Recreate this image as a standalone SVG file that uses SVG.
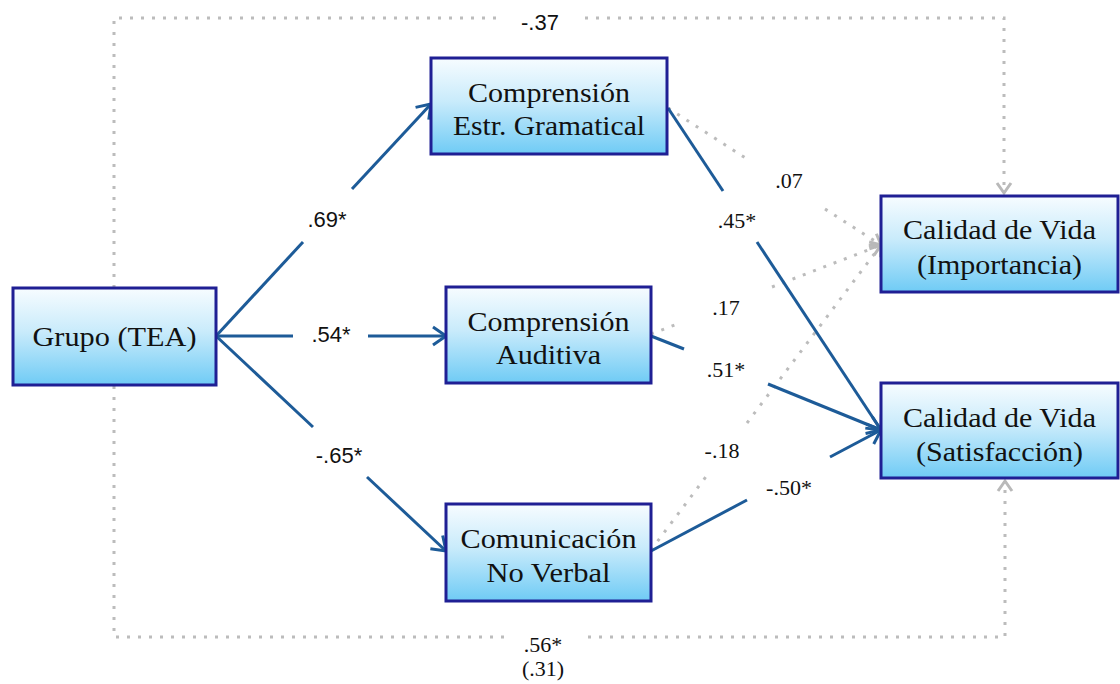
<svg xmlns="http://www.w3.org/2000/svg" width="1120" height="684" viewBox="0 0 1120 684">
  <defs>
    <linearGradient id="boxFill" x1="0" y1="0" x2="0" y2="1">
      <stop offset="0" stop-color="#f7fcff"/>
      <stop offset="0.45" stop-color="#c9ebfb"/>
      <stop offset="1" stop-color="#6fcbf5"/>
    </linearGradient>
    <marker id="arrowBlue" viewBox="-18 -12 22 24" markerWidth="22" markerHeight="24" refX="0" refY="0" orient="auto" markerUnits="userSpaceOnUse">
      <path d="M-13,-9 L0,0 L-13,9" fill="none" stroke="#1d5b98" stroke-width="3"/>
    </marker>
    <marker id="arrowGray" viewBox="-16 -12 20 24" markerWidth="20" markerHeight="24" refX="0" refY="0" orient="auto" markerUnits="userSpaceOnUse">
      <path d="M-10,-7 L0,0 L-10,7" fill="none" stroke="#b9b9b9" stroke-width="3"/>
    </marker>
  </defs>
  <style>
    .box { fill: url(#boxFill); stroke: #1f1f94; stroke-width: 3; }
    .node { font-family: "Liberation Serif", "Times New Roman", serif; font-size: 28px; fill: #111; text-anchor: middle; }
    .solid { fill: none; stroke: #1d5b98; stroke-width: 3; }
    .dot { fill: none; stroke: #bcbcbc; stroke-width: 3; stroke-dasharray: 3 8; }
    .lbl { font-family: "Liberation Serif", "Times New Roman", serif; font-size: 22px; fill: #111; text-anchor: middle; }
    .lbls { font-family: "Liberation Sans", Arial, sans-serif; font-size: 22px; fill: #111; text-anchor: middle; }
  </style>

  <rect width="1120" height="684" fill="#ffffff"/>

  <!-- connectors -->
  <g id="connectors">
    <!-- direct effects (dotted frame) -->
    <path class="dot" d="M114,288 V18 H500"/>
    <path class="dot" d="M585,18 H1004 V193" marker-end="url(#arrowGray)"/>
    <path class="dot" d="M114,386 V637 H509"/>
    <path class="dot" d="M588,637 H1005 V481" marker-end="url(#arrowGray)"/>

    <!-- Grupo to mediators -->
    <path class="solid" d="M216,336 L303,242"/>
    <path class="solid" d="M352,189 L431,104" marker-end="url(#arrowBlue)"/>
    <path class="solid" d="M216,336 L293,336"/>
    <path class="solid" d="M368,336 L446,336" marker-end="url(#arrowBlue)"/>
    <path class="solid" d="M216,336 L313,427"/>
    <path class="solid" d="M367,477 L446,551" marker-end="url(#arrowBlue)"/>

    <!-- mediators to Importancia (non-significant) -->
    <path class="dot" d="M668,108 L747,159"/>
    <path class="dot" d="M825,209 L881,245" marker-end="url(#arrowGray)"/>
    <path class="dot" d="M651,334 L680,323"/>
    <path class="dot" d="M772,287 L881,245" marker-end="url(#arrowGray)"/>
    <path class="dot" d="M651,550 L708,474"/>
    <path class="dot" d="M747,423 L881,245" marker-end="url(#arrowGray)"/>

    <!-- mediators to Satisfaccion -->
    <path class="solid" d="M668,108 L723,191"/>
    <path class="solid" d="M757,242 L881,430" marker-end="url(#arrowBlue)"/>
    <path class="solid" d="M651,336 L684,349"/>
    <path class="solid" d="M768,384 L881,430" marker-end="url(#arrowBlue)"/>
    <path class="solid" d="M651,551 L747,500"/>
    <path class="solid" d="M830,457 L881,430" marker-end="url(#arrowBlue)"/>
  </g>

  <!-- path coefficients -->
  <g id="labels">
    <text class="lbls" x="540" y="30">-.37</text>
    <text class="lbls" x="327" y="227">.69*</text>
    <text class="lbls" x="331" y="342">.54*</text>
    <text class="lbls" x="339" y="463">-.65*</text>
    <text class="lbl" x="789" y="188">.07</text>
    <text class="lbl" x="737" y="228">.45*</text>
    <text class="lbl" x="726" y="315">.17</text>
    <text class="lbl" x="726" y="377">.51*</text>
    <text class="lbl" x="722" y="458">-.18</text>
    <text class="lbl" x="789" y="495">-.50*</text>
    <text class="lbl" x="543" y="652">.56*</text>
    <text class="lbl" x="543" y="676">(.31)</text>
  </g>

  <!-- nodes -->
  <g id="node-grupo">
    <rect class="box" x="13" y="288" width="203" height="97"/>
    <text class="node" x="114.5" y="346" textLength="164" lengthAdjust="spacingAndGlyphs">Grupo (TEA)</text>
  </g>
  <g id="node-estr-gramatical">
    <rect class="box" x="431" y="58" width="236" height="96"/>
    <text class="node" x="549" y="102" textLength="162" lengthAdjust="spacingAndGlyphs">Comprensión</text>
    <text class="node" x="549" y="135" textLength="192" lengthAdjust="spacingAndGlyphs">Estr. Gramatical</text>
  </g>
  <g id="node-auditiva">
    <rect class="box" x="446" y="287" width="205" height="96"/>
    <text class="node" x="548.5" y="331" textLength="162" lengthAdjust="spacingAndGlyphs">Comprensión</text>
    <text class="node" x="548.5" y="364" textLength="105" lengthAdjust="spacingAndGlyphs">Auditiva</text>
  </g>
  <g id="node-no-verbal">
    <rect class="box" x="446" y="504" width="205" height="97"/>
    <text class="node" x="548.5" y="548" textLength="176" lengthAdjust="spacingAndGlyphs">Comunicación</text>
    <text class="node" x="548.5" y="582" textLength="124" lengthAdjust="spacingAndGlyphs">No Verbal</text>
  </g>
  <g id="node-importancia">
    <rect class="box" x="881" y="196" width="237" height="96"/>
    <text class="node" x="999.5" y="239" textLength="193" lengthAdjust="spacingAndGlyphs">Calidad de Vida</text>
    <text class="node" x="999.5" y="274" textLength="165" lengthAdjust="spacingAndGlyphs">(Importancia)</text>
  </g>
  <g id="node-satisfaccion">
    <rect class="box" x="881" y="383" width="237" height="95"/>
    <text class="node" x="999.5" y="427" textLength="193" lengthAdjust="spacingAndGlyphs">Calidad de Vida</text>
    <text class="node" x="999.5" y="461" textLength="167" lengthAdjust="spacingAndGlyphs">(Satisfacción)</text>
  </g>
</svg>
